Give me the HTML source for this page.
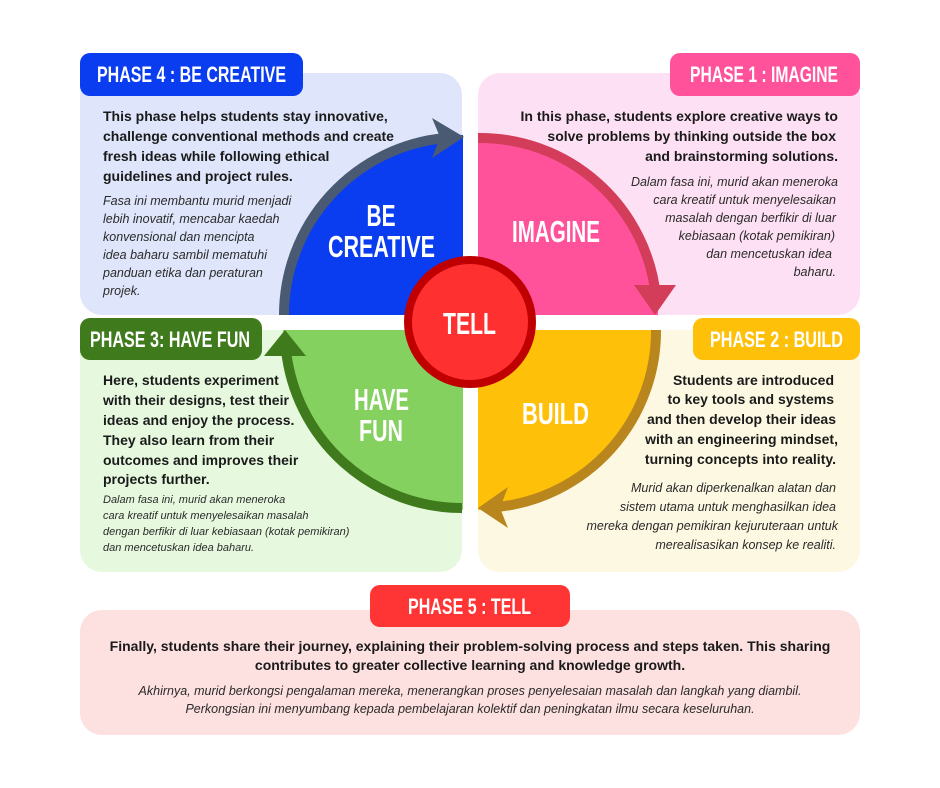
<!DOCTYPE html>
<html><head><meta charset="utf-8"><style>
html,body{margin:0;padding:0;background:#fff;}
svg{display:block;}
.b{font-family:"Liberation Sans",sans-serif;font-weight:bold;font-size:14px;fill:#1a1a1a;}
.i{font-family:"Liberation Sans",sans-serif;font-style:italic;font-size:12.5px;fill:#2a2a2a;}
.s{font-family:"Liberation Sans",sans-serif;font-style:italic;font-size:11px;fill:#2a2a2a;}
.l{font-family:"Liberation Sans Narrow","Liberation Sans",sans-serif;font-weight:bold;font-size:22px;fill:#fff;}
.q{font-family:"Liberation Sans Narrow","Liberation Sans",sans-serif;font-weight:bold;font-size:31px;fill:#fff;}
</style></head><body>
<svg width="940" height="788" viewBox="0 0 940 788" xmlns="http://www.w3.org/2000/svg">
<rect width="940" height="788" fill="#fff"/>
<rect x="80" y="73" width="382" height="242" rx="22" fill="#dfe6fb"/>
<rect x="478" y="73" width="382" height="242" rx="22" fill="#fde0f3"/>
<rect x="80" y="330" width="382" height="242" rx="22" fill="#e6f9df"/>
<rect x="478" y="330" width="382" height="242" rx="22" fill="#fdf8e2"/>
<rect x="80" y="610" width="780" height="125" rx="22" fill="#fde0e0"/>
<path d="M463,315 L283,315 A180,180 0 0 1 463,135 Z" fill="#0a3cf0"/>
<path d="M478,315 L478,135 A180,180 0 0 1 658,315 Z" fill="#ff529a"/>
<path d="M478,330 L658,330 A180,180 0 0 1 478,510 Z" fill="#ffc00a"/>
<path d="M463,330 L463,510 A180,180 0 0 1 283,330 Z" fill="#84d160"/>
<path d="M284,315 A178,178 0 0 1 445,138" fill="none" stroke="#4a5a72" stroke-width="10"/>
<polygon points="432,118 464,137 432,158 440,137" fill="#4a5a72"/>
<path d="M478,138 A177,177 0 0 1 656,297" fill="none" stroke="#d33d5a" stroke-width="10"/>
<polygon points="634,285 676,285 655,315" fill="#d33d5a"/>
<path d="M656,330 A177,177 0 0 1 497,507" fill="none" stroke="#b8861c" stroke-width="10"/>
<polygon points="508,487 478,508 508,528 500,508" fill="#b8861c"/>
<path d="M462,508 A177,177 0 0 1 286,350" fill="none" stroke="#3f7a1c" stroke-width="10"/>
<polygon points="264,356 285,330 306,356" fill="#3f7a1c"/>
<circle cx="470" cy="322" r="62" fill="#ff3030" stroke="#c00000" stroke-width="8"/>
<text class="q" x="469.5" y="334" text-anchor="middle" textLength="53" lengthAdjust="spacingAndGlyphs">TELL</text>
<text class="q" x="381" y="226" text-anchor="middle" textLength="29" lengthAdjust="spacingAndGlyphs">BE</text>
<text class="q" x="381.5" y="257" text-anchor="middle" textLength="107" lengthAdjust="spacingAndGlyphs">CREATIVE</text>
<text class="q" x="556" y="242" text-anchor="middle" textLength="88" lengthAdjust="spacingAndGlyphs">IMAGINE</text>
<text class="q" x="555.5" y="424" text-anchor="middle" textLength="67" lengthAdjust="spacingAndGlyphs">BUILD</text>
<text class="q" x="381.5" y="410" text-anchor="middle" textLength="55" lengthAdjust="spacingAndGlyphs">HAVE</text>
<text class="q" x="381" y="441" text-anchor="middle" textLength="44" lengthAdjust="spacingAndGlyphs">FUN</text>
<rect x="80" y="53" width="223" height="43" rx="10" fill="#0a3cf0"/>
<text class="l" x="97" y="82" textLength="189" lengthAdjust="spacingAndGlyphs">PHASE 4 : BE CREATIVE</text>
<rect x="670" y="53" width="190" height="43" rx="10" fill="#ff529a"/>
<text class="l" x="690" y="82" textLength="148" lengthAdjust="spacingAndGlyphs">PHASE 1 : IMAGINE</text>
<rect x="80" y="318" width="182" height="42" rx="10" fill="#3f7a1c"/>
<text class="l" x="90" y="347" textLength="160" lengthAdjust="spacingAndGlyphs">PHASE 3: HAVE FUN</text>
<rect x="693" y="318" width="167" height="42" rx="10" fill="#ffc00a"/>
<text class="l" x="710" y="347" textLength="133" lengthAdjust="spacingAndGlyphs">PHASE 2 : BUILD</text>
<rect x="370" y="585" width="200" height="42" rx="10" fill="#ff3535"/>
<text class="l" x="408" y="614" textLength="123" lengthAdjust="spacingAndGlyphs">PHASE 5 : TELL</text>
<g class="b">
<text x="103" y="121">This phase helps students stay innovative,</text>
<text x="103" y="141">challenge conventional methods and create</text>
<text x="103" y="161">fresh ideas while following ethical</text>
<text x="103" y="181">guidelines and project rules.</text>
</g>
<g class="i">
<text x="103" y="205">Fasa ini membantu murid menjadi</text>
<text x="103" y="223">lebih inovatif, mencabar kaedah</text>
<text x="103" y="241">konvensional dan mencipta</text>
<text x="103" y="259">idea baharu sambil mematuhi</text>
<text x="103" y="277">panduan etika dan peraturan</text>
<text x="103" y="295">projek.</text>
</g>
<g class="b" text-anchor="end">
<text x="838" y="121">In this phase, students explore creative ways to</text>
<text x="836" y="141">solve problems by thinking outside the box</text>
<text x="838" y="161">and brainstorming solutions.</text>
</g>
<g class="i" text-anchor="end">
<text x="838" y="186">Dalam fasa ini, murid akan meneroka</text>
<text x="836" y="204">cara kreatif untuk menyelesaikan</text>
<text x="836" y="222">masalah dengan berfikir di luar</text>
<text x="835" y="240">kebiasaan (kotak pemikiran)</text>
<text x="832" y="258">dan mencetuskan idea</text>
<text x="836" y="276">baharu.</text>
</g>
<g class="b">
<text x="103" y="385">Here, students experiment</text>
<text x="103" y="405">with their designs, test their</text>
<text x="103" y="425">ideas and enjoy the process.</text>
<text x="103" y="445">They also learn from their</text>
<text x="103" y="465">outcomes and improves their</text>
<text x="103" y="484">projects further.</text>
</g>
<g class="s">
<text x="103" y="503">Dalam fasa ini, murid akan meneroka</text>
<text x="103" y="519">cara kreatif untuk menyelesaikan masalah</text>
<text x="103" y="535">dengan berfikir di luar kebiasaan (kotak pemikiran)</text>
<text x="103" y="551">dan mencetuskan idea baharu.</text>
</g>
<g class="b" text-anchor="end">
<text x="834" y="385">Students are introduced</text>
<text x="834" y="404">to key tools and systems</text>
<text x="836" y="424">and then develop their ideas</text>
<text x="838" y="444">with an engineering mindset,</text>
<text x="836" y="464">turning concepts into reality.</text>
</g>
<g class="i" text-anchor="end">
<text x="836" y="492">Murid akan diperkenalkan alatan dan</text>
<text x="836" y="511">sistem utama untuk menghasilkan idea</text>
<text x="838" y="530">mereka dengan pemikiran kejuruteraan untuk</text>
<text x="836" y="549">merealisasikan konsep ke realiti.</text>
</g>
<g class="b" text-anchor="middle">
<text x="470" y="651">Finally, students share their journey, explaining their problem-solving process and steps taken. This sharing</text>
<text x="470" y="670">contributes to greater collective learning and knowledge growth.</text>
</g>
<g class="i" text-anchor="middle">
<text x="470" y="695">Akhirnya, murid berkongsi pengalaman mereka, menerangkan proses penyelesaian masalah dan langkah yang diambil.</text>
<text x="470" y="713">Perkongsian ini menyumbang kepada pembelajaran kolektif dan peningkatan ilmu secara keseluruhan.</text>
</g>
</svg>
</body></html>
